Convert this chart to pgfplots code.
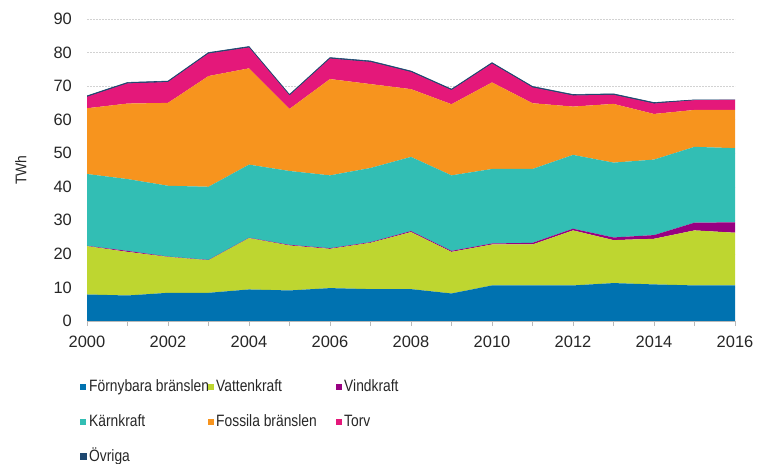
\documentclass[border=0pt]{standalone}
\usepackage{pgfplots}
\pgfplotsset{compat=1.18}
\usepackage{pgfplotstable}
\usepackage{fontspec}
\setmainfont{Liberation Sans}
\newfontfamily\legfont[FakeStretch=0.84]{Liberation Sans}
\newfontfamily\ylfont[FakeStretch=0.9]{Liberation Sans}

\definecolor{cBlue}{RGB}{0,114,176}
\definecolor{cYellow}{RGB}{190,214,48}
\definecolor{cPurple}{RGB}{152,0,130}
\definecolor{cTeal}{RGB}{50,190,180}
\definecolor{cOrange}{RGB}{247,148,30}
\definecolor{cPink}{RGB}{228,24,122}
\definecolor{cNavy}{RGB}{30,72,112}

\pgfplotstableread{
year F V W K Fo T O
2000 7.9 14.4 0.1 21.4 19.6 3.4 0.3
2001 7.6 13.0 0.3 21.4 22.5 6.0 0.3
2002 8.4 10.7 0.1 21.1 24.7 6.2 0.3
2003 8.4 9.7 0.1 21.8 33.0 6.7 0.3
2004 9.4 15.3 0.1 21.8 28.7 6.2 0.3
2005 9.1 13.4 0.2 22.0 18.5 4.0 0.3
2006 9.8 11.7 0.2 21.7 28.7 6.1 0.3
2007 9.5 13.8 0.2 22.1 25.0 6.6 0.3
2008 9.5 17.0 0.3 22.1 20.2 5.1 0.3
2009 8.2 12.4 0.3 22.5 21.2 4.2 0.3
2010 10.6 12.2 0.3 22.2 25.8 5.6 0.3
2011 10.6 12.2 0.5 22.0 19.6 4.7 0.3
2012 10.6 16.4 0.5 22.0 14.4 3.3 0.3
2013 11.3 12.8 0.8 22.3 17.5 2.7 0.3
2014 10.9 13.6 1.1 22.5 13.6 3.1 0.3
2015 10.6 16.4 2.3 22.6 11.0 2.9 0.1
2016 10.6 15.7 3.1 22.1 11.4 3.0 0.0
}\data

\begin{document}
\begin{tikzpicture}
\path[use as bounding box] (0,0) rectangle (759bp,464bp);
\begin{axis}[
  at={(87bp,143bp)}, anchor=south west,
  scale only axis, width=648bp, height=302bp,
  xmin=2000, xmax=2016, ymin=0, ymax=90,
  stack plots=y,
  xtick={2000,2002,...,2016},
  minor xtick={2001,2003,...,2015},
  ytick={0,10,...,90},
  axis x line*=bottom, axis y line*=left,
  x axis line style={-, draw=gray!55},
  y axis line style={draw=none},
  ytick style={draw=none},
  xtick style={draw=gray!55},
  minor x tick style={draw=gray!55},
  tick align=outside,
  major tick length=5bp, minor tick length=5bp,
  ymajorgrids,
  major grid style={draw=gray!35, dash pattern=on 2bp off 1bp},
  /pgf/number format/assume math mode=true,
  /pgf/number format/1000 sep={},
  ticklabel style={font=\fontsize{16.5}{19}\selectfont, text=black!85},
  yticklabel style={inner xsep=0pt, xshift=-10bp},
  xticklabel style={yshift=-7bp},
  ylabel={\ylfont\fontsize{15.5}{18}\selectfont TWh},
  ylabel style={at={(axis description cs:-0.1020,0.5)}, anchor=center, text=black!85},
  legend columns=3,
  legend image code/.code={\fill[#1] (0bp,-3bp) rectangle (6bp,3bp);},
  legend style={draw=none, fill=none,
    at={(axis description cs:-0.0155,-0.185)}, anchor=north west,
    nodes={inner sep=0pt, anchor=west, text height=12bp, text depth=3bp},
    row sep=20bp,
    font=\legfont\fontsize{16.5}{19}\selectfont, text=black!85},
  legend cell align=left,
  /tikz/every odd column/.append style={column sep=2.5bp},
]
\addplot[fill=cBlue, draw=none] table[x=year,y=F]{\data} \closedcycle;
\addlegendentry{\makebox[118.5bp][l]{Förnybara bränslen}}
\addplot[fill=cYellow, draw=none] table[x=year,y=V]{\data} \closedcycle;
\addlegendentry{\makebox[119.5bp][l]{Vattenkraft}}
\addplot[fill=cPurple, draw=none] table[x=year,y=W]{\data} \closedcycle;
\addlegendentry{\makebox[100bp][l]{Vindkraft}}
\addplot[fill=cTeal, draw=none] table[x=year,y=K]{\data} \closedcycle;
\addlegendentry{\makebox[118.5bp][l]{Kärnkraft}}
\addplot[fill=cOrange, draw=none] table[x=year,y=Fo]{\data} \closedcycle;
\addlegendentry{\makebox[119.5bp][l]{Fossila bränslen}}
\addplot[fill=cPink, draw=none] table[x=year,y=T]{\data} \closedcycle;
\addlegendentry{\makebox[100bp][l]{Torv}}
\addplot[fill=cNavy, draw=cNavy, line width=0.6bp] table[x=year,y=O]{\data} \closedcycle;
\addlegendentry{\makebox[118.5bp][l]{Övriga}}
\end{axis}
\end{tikzpicture}
\end{document}
